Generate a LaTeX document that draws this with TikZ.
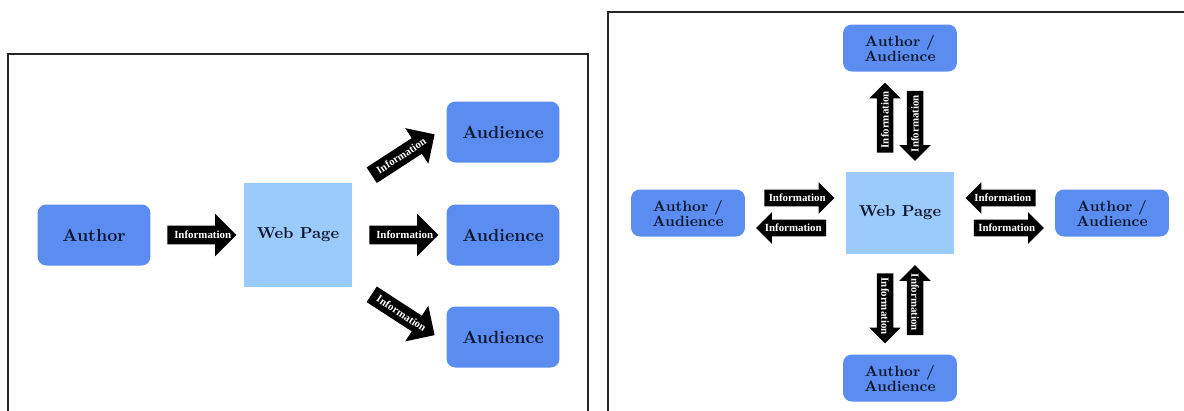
\documentclass[tikz,border=0pt]{standalone}
\usepackage{fontspec}
\usepackage{tikz}
\usetikzlibrary{shapes.arrows, positioning, calc}
\newfontfamily\infofont{Liberation Serif}
\definecolor{boxblue}{HTML}{5B8DF0}
\definecolor{pageblue}{HTML}{9BCBFA}
\definecolor{inkblue}{HTML}{0E1730}
% text box as long as the shaft, the word runs on into the head
\newcommand{\infotext}[2][l]{\makebox[#2][#1]{Information}}

\begin{document}
\begin{tikzpicture}[x=0.02cm, y=-0.02cm,
  frame/.style={line width=0.9pt, draw=black!85},
  person/.style={rectangle, rounded corners=5pt, fill=boxblue, text=inkblue,
    font=\fontsize{10}{10}\selectfont\bfseries, align=center,
    minimum width=2.26cm, minimum height=1.22cm},
  page/.style={rectangle, fill=pageblue, text=inkblue,
    font=\fontsize{9}{10}\selectfont\bfseries},
  info/.style={single arrow, fill=black, text=white,
    font=\infofont\fontsize{6.2}{7}\selectfont\bfseries, text height=4pt, text depth=0pt,
    inner xsep=0.8pt, inner ysep=3.1pt, single arrow head extend=6.8pt,
    minimum height=1.38cm},
  info2/.style={info, inner ysep=2.5pt, single arrow head extend=4.2pt,
    minimum height=1.4cm},
  both/.style={person, font=\fontsize{8.5}{8.5}\selectfont\bfseries,
    minimum width=2.28cm, minimum height=0.94cm}]
  \useasboundingbox (0,0) rectangle (1184,410);

  % One author, many readers
  \draw[frame] (8,412) |- (588,54) -- (588,412);
  \node[person] (author) at (94,235) {Author};
  \node[page, minimum width=2.16cm, minimum height=2.08cm] (web) at (298,235) {Web Page};
  \node[person] (aud1) at (503,132) {Audience};
  \node[person] (aud2) at (503,235) {Audience};
  \node[person] (aud3) at (503,337) {Audience};
  \node[info] (i0) at ($(author.east)!0.5!(web.west)$) {\infotext{0.92cm}};
  \node[info, minimum height=1.5cm] (i1) at ($(web.north east)!0.5!(aud1.west)$) [rotate=33] {\infotext{1.04cm}};
  \node[info] (i2) at ($(web.east)!0.5!(aud2.west)$) {\infotext{0.92cm}};
  \node[info, minimum height=1.5cm] (i3) at ($(web.south east)!0.5!(aud3.west)$) [rotate=-33] {\infotext{1.04cm}};

  % Everyone writes and reads
  \draw[frame] (608,412) |- (1186,12);
  \node[page, minimum width=2.18cm, minimum height=1.64cm] (web2) at (900,213) {Web Page};
  \node[both] (north) at (900,48) {Author /\\Audience};
  \node[both] (west) at (688,213) {Author /\\Audience};
  \node[both] (east) at (1112,213) {Author /\\Audience};
  \node[both] (south) at (900,378) {Author /\\Audience};
  % left pair
  \node[info2] (w1) at ($(west.east)!0.5!(web2.west)+(0,-15)$) {\infotext{1.06cm}};
  \node[info2, shape border rotate=180] (w2) at ($(west.east)!0.5!(web2.west)+(0,15)$) {\infotext[r]{1.06cm}};
  % right pair
  \node[info2, shape border rotate=180] (e1) at ($(web2.east)!0.5!(east.west)+(0,-15)$) {\infotext[r]{1.06cm}};
  \node[info2] (e2) at ($(web2.east)!0.5!(east.west)+(0,15)$) {\infotext{1.06cm}};
  % top pair
  \node[info2, rotate=90] (n1) at ($(north.south)!0.5!(web2.north)+(-15,0)$) {\infotext{1.06cm}};
  \node[info2, rotate=90, shape border rotate=180] (n2) at ($(north.south)!0.5!(web2.north)+(15,0)$) {\infotext[r]{1.06cm}};
  % bottom pair
  \node[info2, rotate=-90] (s1) at ($(web2.south)!0.5!(south.north)+(-15,0)$) {\infotext{1.06cm}};
  \node[info2, rotate=-90, shape border rotate=180] (s2) at ($(web2.south)!0.5!(south.north)+(15,0)$) {\infotext[r]{1.06cm}};
\end{tikzpicture}
\end{document}
